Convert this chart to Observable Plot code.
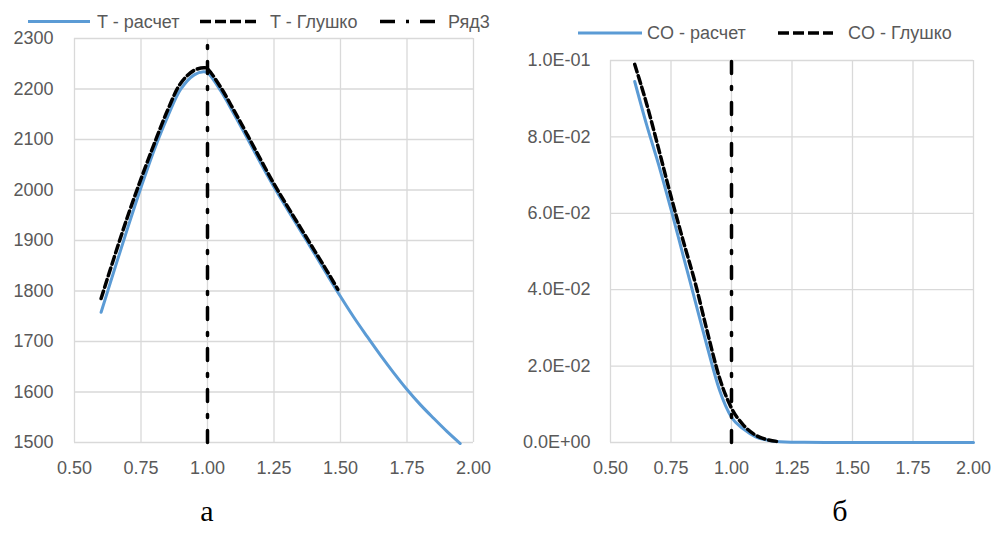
<!DOCTYPE html>
<html>
<head>
<meta charset="utf-8">
<script src="https://cdn.jsdelivr.net/npm/d3@7"></script>
<script src="https://cdn.jsdelivr.net/npm/@observablehq/plot@0.6"></script>
<style>
  body { margin: 0; background: #fff; }
  #wrap { position: relative; width: 996px; height: 553px; background: #fff; overflow: hidden; font-family: "Liberation Sans", Arial, sans-serif; }
  .chart { position: absolute; top: 0; }
  .lg { position: absolute; font-size: 18px; color: #595959; line-height: 1; white-space: nowrap; transform: translateY(-50%); }
  .cap { position: absolute; font-family: "Liberation Serif", "Times New Roman", serif; font-size: 30px; color: #000; transform: translateX(-50%); }
  #samples { position: absolute; left: 0; top: 0; pointer-events: none; }
</style>
</head>
<body>
<div id="wrap">
  <div id="left" class="chart" style="left:0px"></div>
  <div id="right" class="chart" style="left:498px"></div>
  <svg id="samples" width="996" height="60">
    <line x1="28" x2="90" y1="21.5" y2="21.5" stroke="#5B9BD5" stroke-width="3"/>
    <line x1="200" x2="260" y1="21.5" y2="21.5" stroke="#000" stroke-width="3.5" stroke-dasharray="11,4"/>
    <line x1="380" x2="440" y1="21.5" y2="21.5" stroke="#000" stroke-width="3.5" stroke-dasharray="15,11,3,11"/>
    <line x1="578" x2="642" y1="33" y2="33" stroke="#5B9BD5" stroke-width="3"/>
    <line x1="778" x2="833" y1="33" y2="33" stroke="#000" stroke-width="3.5" stroke-dasharray="11,4"/>
  </svg>
  <div class="lg" style="left:97px; top:21.5px">T - расчет</div>
  <div class="lg" style="left:270px; top:21.5px">T - Глушко</div>
  <div class="lg" style="left:448px; top:21.5px">Ряд3</div>
  <div class="lg" style="left:647px; top:33px">CO - расчет</div>
  <div class="lg" style="left:848px; top:33px">CO - Глушко</div>
  <div class="cap" style="left:207px; top:494px">а</div>
  <div class="cap" style="left:840px; top:494px">б</div>
</div>
<script>
// ---- Data ----
const xTicks = [0.5, 0.75, 1.0, 1.25, 1.5, 1.75, 2.0];
const tTicks = [1500, 1600, 1700, 1800, 1900, 2000, 2100, 2200, 2300];
const coTicks = [0, 0.02, 0.04, 0.06, 0.08, 0.1];

// T - расчет
const tCalcX = [0.6, 0.65, 0.7, 0.75, 0.8, 0.85, 0.9, 0.95, 0.985, 1.0, 1.05, 1.1, 1.15, 1.2, 1.25, 1.3, 1.35, 1.4, 1.45, 1.5, 1.55, 1.6, 1.65, 1.7, 1.75, 1.8, 1.85, 1.9, 1.95];
const tCalcY = [1758, 1842, 1925, 2005, 2080, 2145, 2200, 2228, 2234, 2232, 2196, 2150, 2102, 2053, 2006, 1962, 1919, 1876, 1832, 1789, 1748, 1710, 1673, 1638, 1605, 1575, 1548, 1522, 1498];
// T - Глушко
const tGlX = [0.6, 0.65, 0.7, 0.75, 0.8, 0.85, 0.9, 0.95, 0.99, 1.0, 1.05, 1.1, 1.15, 1.2, 1.25, 1.3, 1.35, 1.4, 1.45, 1.49];
const tGlY = [1785, 1868, 1948, 2022, 2092, 2158, 2212, 2237, 2242, 2240, 2203, 2157, 2109, 2060, 2012, 1968, 1925, 1882, 1839, 1803];
// Ряд3 (vertical line)
const r3X = [1.0, 1.0];
const r3T = [1500, 2300];
const r3CO = [0, 0.1];

// CO - расчет
const coCalcX = [0.6, 0.65, 0.7, 0.75, 0.8, 0.85, 0.9, 0.95, 1.0, 1.05, 1.1, 1.15, 1.2, 1.3, 1.5, 1.75, 2.0];
const coCalcY = [0.0945, 0.083, 0.0725, 0.061, 0.049, 0.037, 0.025, 0.0138, 0.0066, 0.0035, 0.0015, 0.0006, 0.0002, 0.00005, 0.00001, 0, 0];
// CO - Глушко
const coGlX = [0.6, 0.65, 0.7, 0.75, 0.8, 0.85, 0.9, 0.95, 1.0, 1.05, 1.1, 1.15, 1.2];
const coGlY = [0.099, 0.0885, 0.0766, 0.0644, 0.0529, 0.0418, 0.029, 0.017, 0.009, 0.0045, 0.0019, 0.0007, 0.0002];

// ---- Build ----
const zip = (xs, ys) => xs.map((x, i) => ({x, y: ys[i]}));
const BLUE = "#5B9BD5";
const GRID = "#d9d9d9";
const TXT = "#595959";
const fmtX = d3.format(".2f");
const fmtE = v => {
  const [m, e] = v.toExponential(1).split("e");
  const s = e[0] === "-" ? "-" : "+";
  return (m + "E" + s + String(Math.abs(+e)).padStart(2, "0")).toUpperCase();
};
const style = {fontFamily: "Liberation Sans, Arial, sans-serif", fontSize: "18px", color: TXT, background: "transparent"};

const left = Plot.plot({
  width: 498, height: 480,
  marginLeft: 74, marginRight: 25, marginTop: 38, marginBottom: 38,
  style,
  x: {domain: [0.5, 2.0], ticks: xTicks, tickFormat: fmtX, label: null, tickSize: 0, tickPadding: 19},
  y: {domain: [1500, 2300], ticks: tTicks, tickFormat: d3.format("d"), label: null, tickSize: 0, tickPadding: 21},
  marks: [
    Plot.gridX(xTicks, {stroke: GRID, strokeOpacity: 1, strokeWidth: 1.3}),
    Plot.gridY(tTicks, {stroke: GRID, strokeOpacity: 1, strokeWidth: 1.3}),
    Plot.line(zip(tCalcX, tCalcY), {x: "x", y: "y", stroke: BLUE, strokeWidth: 3, curve: "catmull-rom"}),
    Plot.line(zip(tGlX, tGlY), {x: "x", y: "y", stroke: "#000", strokeWidth: 3.5, strokeDasharray: "8,4", curve: "catmull-rom"}),
    Plot.line(zip(r3X, r3T), {x: "x", y: "y", stroke: "#000", strokeWidth: 3.5, strokeDasharray: "12,13,3,13"})
  ]
});
document.getElementById("left").appendChild(left);

const right = Plot.plot({
  width: 498, height: 480,
  marginLeft: 112, marginRight: 23, marginTop: 60, marginBottom: 38,
  style,
  x: {domain: [0.5, 2.0], ticks: xTicks, tickFormat: fmtX, label: null, tickSize: 0, tickPadding: 19},
  y: {domain: [0, 0.1], ticks: coTicks, tickFormat: fmtE, label: null, tickSize: 0, tickPadding: 20},
  marks: [
    Plot.gridX(xTicks, {stroke: GRID, strokeOpacity: 1, strokeWidth: 1.3}),
    Plot.gridY(coTicks, {stroke: GRID, strokeOpacity: 1, strokeWidth: 1.3}),
    Plot.line(zip(coCalcX, coCalcY), {x: "x", y: "y", stroke: BLUE, strokeWidth: 3, curve: "monotone-x"}),
    Plot.line(zip(coGlX, coGlY), {x: "x", y: "y", stroke: "#000", strokeWidth: 3.5, strokeDasharray: "8,4", curve: "monotone-x"}),
    Plot.line(zip(r3X, r3CO), {x: "x", y: "y", stroke: "#000", strokeWidth: 3.5, strokeDasharray: "12,13,3,13"})
  ]
});
document.getElementById("right").appendChild(right);
</script>
</body>
</html>
